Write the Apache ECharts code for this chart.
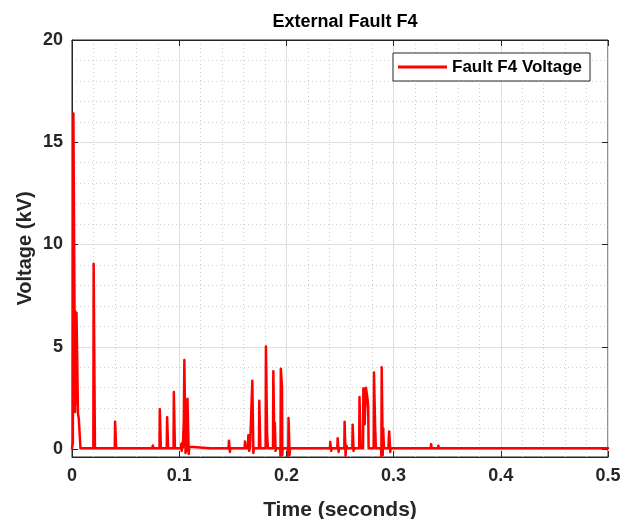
<!DOCTYPE html>
<html style="height: 100%">
<head>
    <meta charset="utf-8">
    <script src="https://cdn.jsdelivr.net/npm/echarts@6/dist/echarts.min.js"></script>
</head>
<body style="height: 100%; margin: 0; background-color: #fff">
    <div id="container" style="width: 622px; height: 519px"></div>
    <script type="text/javascript">
        // time (s) and voltage (kV)
        var times = [
            0, 0.0008, 0.0013, 0.0024, 0.0029, 0.0033, 0.0038, 0.0042, 0.0052, 0.0056, 0.0063, 0.0076, 0.0079,
            0.0199, 0.0202, 0.0211, 0.0214,
            0.0399, 0.0402, 0.0409, 0.0412,
            0.0748, 0.0754, 0.0760,
            0.0816, 0.0819, 0.0826, 0.0829,
            0.0884, 0.0887, 0.0894, 0.0897,
            0.0947, 0.0950, 0.0957, 0.0960,
            0.1016, 0.1020, 0.1024, 0.1029, 0.1034, 0.1043, 0.1048, 0.1056, 0.1059, 0.1064, 0.1069, 0.1077, 0.1085, 0.1089, 0.1094, 0.1099,
            0.1290, 0.1296, 0.1302,
            0.1460, 0.1464, 0.1470, 0.1473, 0.1477,
            0.1610, 0.1614, 0.1619, 0.1622,
            0.1641, 0.1645, 0.1650, 0.1653, 0.1657, 0.1661,
            0.1679, 0.1682, 0.1689, 0.1692, 0.1696,
            0.1744, 0.1747, 0.1754, 0.1757,
            0.1806, 0.1809, 0.1817, 0.1820, 0.1825, 0.1828,
            0.1875, 0.1878, 0.1885, 0.1888, 0.1892, 0.1896, 0.1899, 0.1903,
            0.1942, 0.1945, 0.1948, 0.1955, 0.1959, 0.1962, 0.1966,
            0.2014, 0.2017, 0.2020, 0.2027, 0.2030, 0.2034,
            0.2089, 0.2093, 0.2097,
            0.2156, 0.2160, 0.2164,
            0.2339, 0.2343, 0.2347,
            0.2406, 0.2409, 0.2415, 0.2418, 0.2422,
            0.2475, 0.2478, 0.2484, 0.2487, 0.2491,
            0.2540, 0.2543, 0.2549, 0.2552, 0.2556, 0.2561, 0.2566,
            0.2615, 0.2618, 0.2624, 0.2627, 0.2631,
            0.2679, 0.2682, 0.2689, 0.2692, 0.2696,
            0.2715, 0.2718, 0.2726, 0.2730, 0.2742, 0.2752, 0.2757, 0.2763, 0.2767,
            0.2814, 0.2817, 0.2824, 0.2828, 0.2832, 0.2835,
            0.2883, 0.2886, 0.2889, 0.2896, 0.2899, 0.2903, 0.2907, 0.2910,
            0.2952, 0.2955, 0.2959, 0.2966, 0.2969, 0.2973,
            0.3026, 0.3030, 0.3034,
            0.3276, 0.3280, 0.3284,
            0.3346, 0.3350, 0.3355,
            0.3414, 0.3418, 0.3422,
            0.4071, 0.4075, 0.4079,
            0.4400, 0.4404, 0.4408,
            0.4700, 0.4704, 0.4708,
            0.5
        ];
        var volts = [
            0.03, 0.3, 16.4, 16.35, 1.8, 6.7, 2.2, 6.65, 6.6, 1.7, 1.5, 1.5, 0.03,
            0.03, 9.05, 9.05, 0.03,
            0.03, 1.33, 1.33, 0.03,
            0.03, 0.16, 0.03,
            0.03, 1.94, 1.94, 0.03,
            0.03, 1.55, 1.55, 0.03,
            0.03, 2.78, 2.78, 0.03,
            0.03, 0.25, -0.1, 0.3, 0.05, 1.4, 4.35, 4.35, -0.2, 0.8, -0.1, 2.45, 2.45, -0.25, 0.1, 0.03,
            0.03, 0.12, 0.03,
            0.03, 0.4, 0.4, -0.15, 0.03,
            0.03, 0.36, 0.36, 0.03,
            0.03, 0.67, 0.67, -0.1, 0.5, 0.03,
            0.03, 3.33, 3.33, -0.2, 0.03,
            0.03, 2.35, 2.35, 0.03,
            0.03, 5.0, 5.0, 0.68, 0.68, 0.03,
            0.03, 3.8, 3.8, 0.1, 1.27, 1.27, -0.1, 0.03,
            0.03, -0.38, 3.92, 3.92, 3.0, -0.3, 0.03,
            0.03, -0.34, 1.51, 1.51, -0.3, 0.03,
            0.03, 0.1, 0.03,
            0.03, 0.08, 0.03,
            0.03, 0.09, 0.03,
            0.03, 0.33, 0.33, -0.1, 0.03,
            0.03, 0.52, 0.52, -0.15, 0.03,
            0.03, 1.32, 1.32, -0.34, 0.03, 0.15, 0.03,
            0.03, 1.18, 1.18, -0.1, 0.03,
            0.03, 2.53, 2.53, 0.2, 0.03,
            0.03, 2.96, 2.96, 1.2, 2.99, 2.99, 2.43, 2.0, 0.03,
            0.03, 3.73, 3.73, 1.0, 1.0, 0.03,
            0.03, -0.38, 3.99, 3.99, -0.3, 1.0, 1.0, 0.03,
            0.03, 0.5, 0.85, 0.85, -0.15, 0.03,
            0.03, 0.1, 0.03,
            0.03, 0.12, 0.03,
            0.03, 0.23, 0.03,
            0.03, 0.15, 0.03,
            0.03, 0.07, 0.03,
            0.03, 0.07, 0.03,
            0.03, 0.06, 0.03,
            0.03
        ];
        var xTicks = [0, 0.1, 0.2, 0.3, 0.4, 0.5];
        var yTicks = [0, 5, 10, 15, 20];

        var textColor = '#262626';
        var fontName = 'Liberation Sans';

        var dom = document.getElementById("container");
        var myChart = echarts.init(dom);

        var seriesData = times.map(function (t, i) { return [t, volts[i]]; });

        var option = {
            animation: false,
            backgroundColor: '#fff',
            title: {
                text: 'External Fault F4',
                left: 340,
                top: 8,
                textAlign: 'center',
                textStyle: { fontFamily: fontName, fontSize: 18, fontWeight: 'bold', color: '#000' }
            },
            legend: {
                left: 393,
                top: 53,
                data: [{ name: 'Fault F4 Voltage', icon: 'rect' }],
                backgroundColor: '#fff',
                borderColor: '#262626',
                borderWidth: 1,
                borderRadius: 0,
                padding: [5, 8, 5, 5],
                itemWidth: 49,
                itemHeight: 3,
                itemGap: 0,
                itemTextGap: 5,
                itemStyle: { color: '#ff0000', borderWidth: 0 },
                textStyle: { fontFamily: fontName, fontSize: 17, fontWeight: 'bold', color: '#000', lineHeight: 18 }
            },
            grid: [
                // grid 0 holds the data, y from -0.4 to 20
                { left: 72, right: 14, top: 40, bottom: 62, outerBoundsMode: 'none', containLabel: false,
                  show: true, borderColor: '#262626', borderWidth: 1, backgroundColor: 'transparent' },
                // grid 1 spans 0..20 only and carries the y labels and grid lines
                { left: 72, right: 14, top: 40, bottom: 70, outerBoundsMode: 'none', containLabel: false }
            ],
            xAxis: [
                {
                    type: 'value', gridIndex: 0, min: xTicks[0], max: xTicks[xTicks.length - 1], interval: 0.1,
                    name: 'Time (seconds)', nameLocation: 'middle', nameGap: 43,
                    nameTextStyle: { fontFamily: fontName, fontSize: 21, fontWeight: 'bold', color: textColor },
                    axisLine: { show: true, onZero: false, lineStyle: { color: textColor, width: 1 } },
                    axisTick: { show: true, inside: true, length: 6, lineStyle: { color: textColor } },
                    axisLabel: { margin: 10, fontFamily: fontName, fontSize: 18, fontWeight: 'bold', color: textColor },
                    splitLine: { show: true, lineStyle: { color: '#dedede', width: 1 } },
                    minorTick: { show: false, splitNumber: 5 },
                    minorSplitLine: { show: true, lineStyle: { color: '#cfcfcf', width: 1, type: [1, 3] } }
                },
                {
                    type: 'value', gridIndex: 0, position: 'top', min: 0, max: 0.5, interval: 0.1,
                    axisLine: { show: true, onZero: false, lineStyle: { color: textColor } },
                    axisTick: { show: true, inside: true, length: 6, lineStyle: { color: textColor } },
                    axisLabel: { show: false },
                    splitLine: { show: false }
                },
                {
                    type: 'value', gridIndex: 1, min: 0, max: 0.5, show: false
                }
            ],
            yAxis: [
                {
                    type: 'value', gridIndex: 0, min: -0.4, max: 20,
                    name: 'Voltage (kV)', nameLocation: 'middle', nameGap: 37,
                    nameTextStyle: { fontFamily: fontName, fontSize: 20, fontWeight: 'bold', color: textColor },
                    axisLine: { show: true, onZero: false, lineStyle: { color: textColor } },
                    axisTick: { show: false },
                    axisLabel: { show: false },
                    splitLine: { show: false }
                },
                {
                    type: 'value', gridIndex: 1, min: yTicks[0], max: yTicks[yTicks.length - 1], interval: 5,
                    axisLine: { show: false, onZero: false },
                    axisTick: { show: true, inside: true, length: 6, lineStyle: { color: textColor } },
                    axisLabel: { margin: 9, fontFamily: fontName, fontSize: 18, fontWeight: 'bold', color: textColor },
                    splitLine: { show: true, lineStyle: { color: '#dedede', width: 1 } },
                    minorTick: { show: false, splitNumber: 5 },
                    minorSplitLine: { show: true, lineStyle: { color: '#cfcfcf', width: 1, type: [1, 3] } }
                },
                {
                    type: 'value', gridIndex: 1, position: 'right', min: 0, max: 20, interval: 5,
                    axisLine: { show: false, onZero: false },
                    axisTick: { show: true, inside: true, length: 6, lineStyle: { color: textColor } },
                    axisLabel: { show: false },
                    splitLine: { show: false }
                }
            ],
            series: [{
                name: 'Fault F4 Voltage',
                type: 'line',
                xAxisIndex: 0,
                yAxisIndex: 0,
                data: seriesData,
                symbol: 'none',
                sampling: null,
                color: '#ff0000',
                lineStyle: { color: '#ff0000', width: 2.5, join: 'round', cap: 'round' },
                z: 5
            }]
        };
        myChart.setOption(option);
    </script>
</body>
</html>
